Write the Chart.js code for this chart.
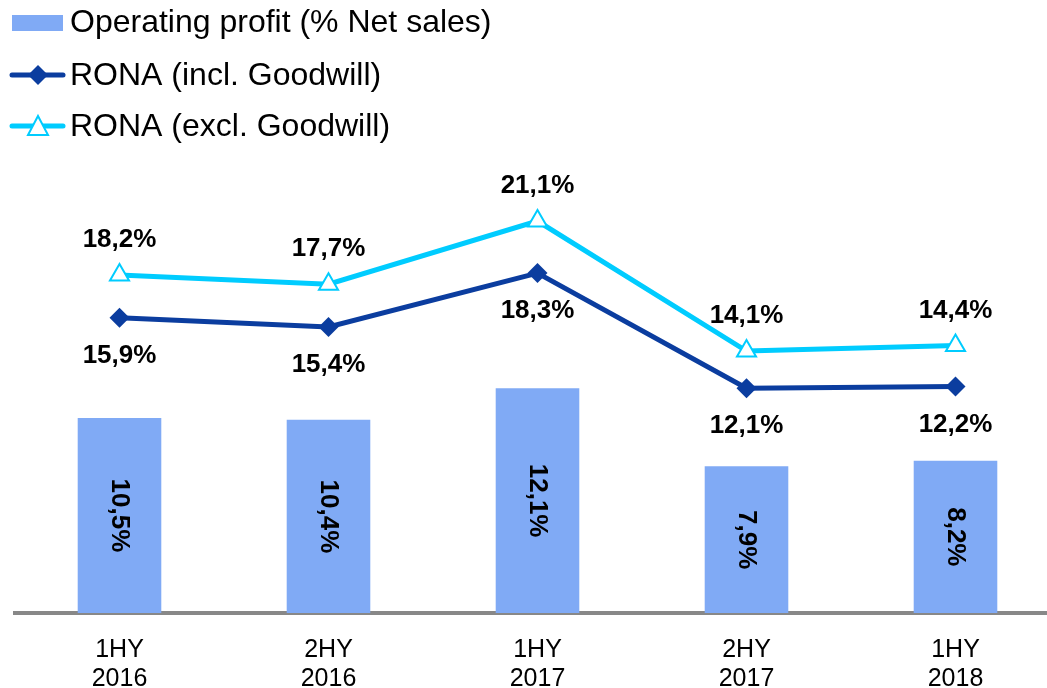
<!DOCTYPE html>
<html>
<head>
<meta charset="utf-8">
<script src="https://cdn.jsdelivr.net/npm/chart.js@4"></script>
<style>
  html, body { margin: 0; padding: 0; overflow: hidden; background: #fff; width: 1047px; height: 688px; }
  #wrap { position: relative; width: 1047px; height: 688px; overflow: hidden; }
  #chartCanvas { position: absolute; left: 0; top: 0; }
</style>
</head>
<body>
<div id="wrap"><canvas id="chartCanvas" width="1062" height="688"></canvas></div>
<script>
let periods = [['1HY', '2016'], ['2HY', '2016'], ['1HY', '2017'], ['2HY', '2017'], ['1HY', '2018']];
let operatingProfit = [10.5, 10.4, 12.1, 7.9, 8.2];
let ronaIncl = [15.9, 15.4, 18.3, 12.1, 12.2];
let ronaExcl = [18.2, 17.7, 21.1, 14.1, 14.4];

let barColor = '#80AAF5';
let darkBlue = '#0B3D9F';
let cyan = '#00CCFF';
let fontName = '"Liberation Sans", Arial, sans-serif';

let fmt = function (v) {
    return v.toFixed(1).replace('.', ',') + '%';
};

// value labels: inside bars (rotated), above cyan points, below dark points
let valueLabels = {
    id: 'valueLabels',
    afterDatasetsDraw: function (chart) {
        let ctx = chart.ctx;
        ctx.save();
        ctx.fillStyle = '#000';
        ctx.font = 'bold 26px ' + fontName;
        ctx.textAlign = 'center';
        ctx.textBaseline = 'middle';
        chart.data.datasets.forEach(function (ds, di) {
            let meta = chart.getDatasetMeta(di);
            meta.data.forEach(function (el, i) {
                let text = fmt(ds.data[i]);
                if (ds.type === 'bar') {
                    ctx.save();
                    ctx.translate(el.x, (el.y + el.base) / 2);
                    ctx.rotate(Math.PI / 2);
                    ctx.fillText(text, 0, 0);
                    ctx.restore();
                } else if (ds.labelSide === 'above') {
                    ctx.fillText(text, el.x, el.y - 35);
                } else {
                    ctx.fillText(text, el.x, el.y + 38);
                }
            });
        });
        ctx.restore();
    }
};

// legend in the top-left corner, like the original
let cornerLegend = {
    id: 'cornerLegend',
    afterDraw: function (chart) {
        let ctx = chart.ctx;
        ctx.save();
        ctx.font = '32px ' + fontName;
        ctx.textBaseline = 'middle';

        ctx.fillStyle = barColor;
        ctx.fillRect(12, 15, 51, 16);
        ctx.fillStyle = '#000';
        ctx.fillText('Operating profit (% Net sales)', 70, 23);

        ctx.lineCap = 'round';
        ctx.lineWidth = 5;
        ctx.strokeStyle = darkBlue;
        ctx.beginPath(); ctx.moveTo(12, 75); ctx.lineTo(63, 75); ctx.stroke();
        ctx.fillStyle = darkBlue;
        ctx.beginPath();
        ctx.moveTo(38, 65); ctx.lineTo(48, 75); ctx.lineTo(38, 85); ctx.lineTo(28, 75);
        ctx.closePath(); ctx.fill();
        ctx.fillStyle = '#000';
        ctx.fillText('RONA (incl. Goodwill)', 70, 76);

        ctx.strokeStyle = cyan;
        ctx.beginPath(); ctx.moveTo(12, 126); ctx.lineTo(63, 126); ctx.stroke();
        ctx.lineWidth = 2;
        ctx.lineCap = 'butt';
        ctx.fillStyle = '#fff';
        ctx.beginPath();
        ctx.moveTo(38, 116); ctx.lineTo(48, 135); ctx.lineTo(28, 135);
        ctx.closePath(); ctx.fill(); ctx.stroke();
        ctx.fillStyle = '#000';
        ctx.fillText('RONA (excl. Goodwill)', 70, 127);
        ctx.restore();
    }
};

let ctx = document.getElementById('chartCanvas').getContext('2d');
new Chart(ctx, {
    data: {
        labels: periods,
        datasets: [{
            type: 'line',
            label: 'RONA (excl. Goodwill)',
            data: ronaExcl,
            borderColor: cyan,
            borderWidth: 5,
            pointStyle: 'triangle',
            pointRadius: 11,
            pointBorderWidth: 2,
            pointBackgroundColor: '#fff',
            pointBorderColor: cyan,
            labelSide: 'above',
            order: 1
        }, {
            type: 'line',
            label: 'RONA (incl. Goodwill)',
            data: ronaIncl,
            borderColor: darkBlue,
            borderWidth: 5,
            pointStyle: 'rectRot',
            pointRadius: 10,
            pointBorderWidth: 0,
            pointBackgroundColor: darkBlue,
            pointBorderColor: darkBlue,
            labelSide: 'below',
            order: 2
        }, {
            type: 'bar',
            label: 'Operating profit (% Net sales)',
            data: operatingProfit,
            backgroundColor: barColor,
            barPercentage: 0.4,
            categoryPercentage: 1,
            order: 3
        }]
    },
    options: {
        responsive: false,
        animation: false,
        layout: { autoPadding: false, padding: { left: 15, right: 2, top: 0, bottom: 0 } },
        plugins: {
            legend: { display: false },
            tooltip: { enabled: false }
        },
        scales: {
            x: {
                grid: { display: false, drawTicks: false },
                border: { display: true, color: '#888888', width: 4 },
                ticks: {
                    color: '#000',
                    padding: 22,
                    font: { family: fontName, size: 25, lineHeight: 1.18 },
                    maxRotation: 0
                },
                afterFit: function (scale) { scale.height = 75; }
            },
            y: {
                display: false,
                min: 0,
                max: 33
            }
        }
    },
    plugins: [valueLabels, cornerLegend]
});
</script>
</body>
</html>
